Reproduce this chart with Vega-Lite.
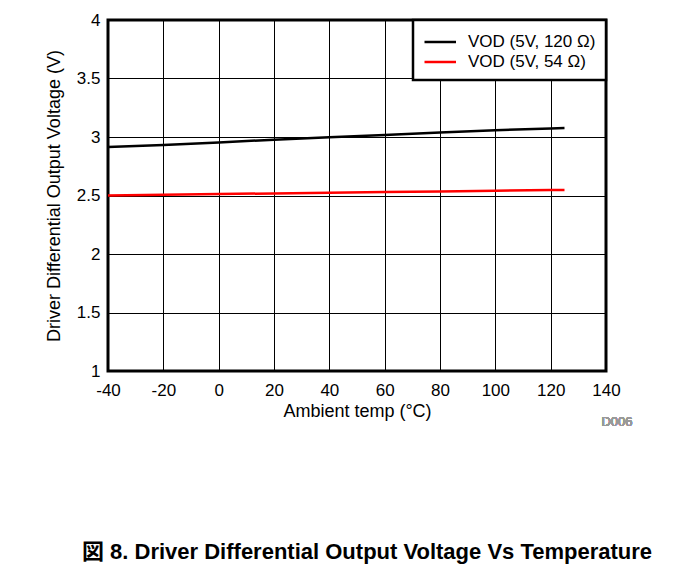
{
  "$schema": "https://vega.github.io/schema/vega-lite/v6.json",
  "width": 498,
  "height": 351,
  "padding": {"left": 45, "top": 11, "right": 5, "bottom": 5},
  "background": "white",
  "title": {
    "text": "図 8. Driver Differential Output Voltage Vs Temperature",
    "orient": "bottom",
    "anchor": "middle",
    "dx": 10,
    "offset": 113,
    "font": "Liberation Sans, Noto Sans CJK JP",
    "fontSize": 22,
    "fontWeight": "bold",
    "color": "black"
  },
  "data": {
    "values": [
      {"temp": -40, "v": 2.915, "series": "VOD (5V, 120 Ω)"},
      {"temp": -20, "v": 2.932, "series": "VOD (5V, 120 Ω)"},
      {"temp": 0, "v": 2.953, "series": "VOD (5V, 120 Ω)"},
      {"temp": 20, "v": 2.977, "series": "VOD (5V, 120 Ω)"},
      {"temp": 40, "v": 2.998, "series": "VOD (5V, 120 Ω)"},
      {"temp": 60, "v": 3.018, "series": "VOD (5V, 120 Ω)"},
      {"temp": 80, "v": 3.038, "series": "VOD (5V, 120 Ω)"},
      {"temp": 100, "v": 3.058, "series": "VOD (5V, 120 Ω)"},
      {"temp": 120, "v": 3.072, "series": "VOD (5V, 120 Ω)"},
      {"temp": 125, "v": 3.076, "series": "VOD (5V, 120 Ω)"},
      {"temp": -40, "v": 2.500, "series": "VOD (5V, 54 Ω)"},
      {"temp": -20, "v": 2.506, "series": "VOD (5V, 54 Ω)"},
      {"temp": 0, "v": 2.512, "series": "VOD (5V, 54 Ω)"},
      {"temp": 20, "v": 2.518, "series": "VOD (5V, 54 Ω)"},
      {"temp": 40, "v": 2.523, "series": "VOD (5V, 54 Ω)"},
      {"temp": 60, "v": 2.529, "series": "VOD (5V, 54 Ω)"},
      {"temp": 80, "v": 2.535, "series": "VOD (5V, 54 Ω)"},
      {"temp": 100, "v": 2.541, "series": "VOD (5V, 54 Ω)"},
      {"temp": 120, "v": 2.546, "series": "VOD (5V, 54 Ω)"},
      {"temp": 125, "v": 2.547, "series": "VOD (5V, 54 Ω)"}
    ]
  },
  "layer": [
    {
      "mark": {"type": "line", "strokeWidth": 2.5, "clip": true},
      "encoding": {
        "x": {
          "field": "temp",
          "type": "quantitative",
          "scale": {"domain": [-40, 140], "nice": false, "zero": false},
          "axis": {"values": [-40, -20, 0, 20, 40, 60, 80, 100, 120, 140], "labelExpr": "toString(datum.value)", "labelFlush": false, "labelOverlap": false, "labelPadding": 11, "title": "Ambient temp (°C)", "titlePadding": 4}
        },
        "y": {
          "field": "v",
          "type": "quantitative",
          "scale": {"domain": [1, 4], "nice": false, "zero": false},
          "axis": {"values": [1, 1.5, 2, 2.5, 3, 3.5, 4], "labelExpr": "toString(datum.value)", "title": "Driver Differential Output Voltage (V)", "titlePadding": 13, "labelPadding": 8}
        },
        "color": {
          "field": "series",
          "type": "nominal",
          "scale": {"domain": ["VOD (5V, 120 Ω)", "VOD (5V, 54 Ω)"], "range": ["#000000", "#ff0000"]},
          "legend": {
            "title": null,
            "orient": "top-right",
            "offset": 0,
            "fillColor": "white",
            "strokeColor": "black",
            "padding": 10,
            "symbolType": "M-1,0H2",
            "symbolSize": 441,
            "symbolStrokeWidth": 2.5,
            "labelFontSize": 17,
            "labelFont": "Liberation Sans",
            "labelColor": "black",
            "rowPadding": -3,
            "labelOffset": 21
          }
        }
      }
    },
    {
      "mark": {"type": "text", "text": "D006", "align": "center", "baseline": "middle", "dx": 11, "dy": 51, "fontSize": 13, "font": "Liberation Sans", "color": "#999999"},
      "encoding": {
        "x": {"datum": 140, "type": "quantitative"},
        "y": {"datum": 1, "type": "quantitative"}
      }
    }
  ],
  "config": {
    "view": {"stroke": "black", "strokeWidth": 3},
    "legend": {"strokeWidth": 2.5},
    "axis": {
      "grid": true,
      "gridColor": "#000000",
      "gridOpacity": 1,
      "gridWidth": 1,
      "domain": false,
      "ticks": false,
      "labelPadding": 6,
      "labelFont": "Liberation Sans",
      "labelFontSize": 17,
      "labelColor": "black",
      "titleFont": "Liberation Sans",
      "titleFontSize": 18,
      "titleFontWeight": "normal",
      "titleColor": "black"
    }
  }
}
